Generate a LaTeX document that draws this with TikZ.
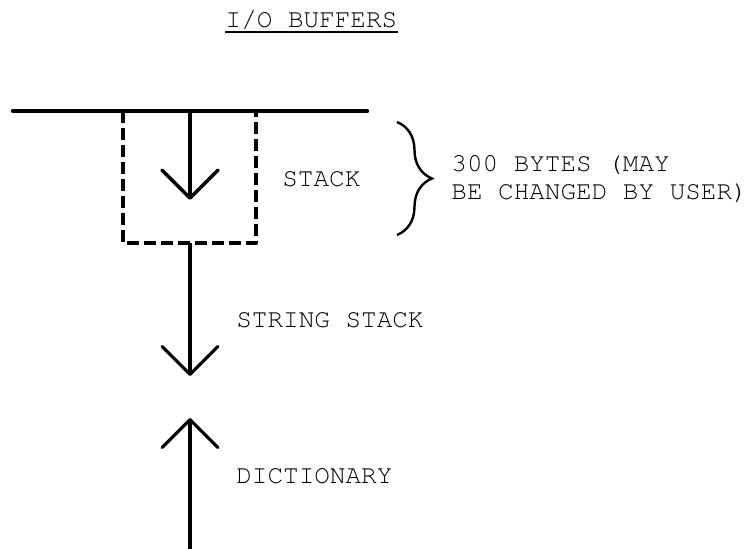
\documentclass[tikz,border=0pt]{standalone}
\usepackage[T1]{fontenc}
\usepackage{courier}
\usetikzlibrary{arrows.meta,decorations.pathreplacing}

\begin{document}
\begin{tikzpicture}[
  x=0.5pt, y=-0.5pt,
  memtext/.style={font=\ttfamily\fontsize{13}{14}\selectfont,inner sep=0pt},
  bar/.style={line width=2.2pt,line cap=round},
  wall/.style={line width=2.2pt,line join=round,dash pattern=on 6pt off 2.5pt},
  shaft/.style={line width=1.8pt,-{Straight Barb[length=14pt,width=28pt,round]}}
]
  \useasboundingbox (0,0) rectangle (752,549);

  % title
  \node[memtext,anchor=base] (title) at (311.5,28) {I/O BUFFERS};
  \draw[line width=0.9pt] ([yshift=-2pt]title.base west) -- ([yshift=-2pt]title.base east);

  % buffer boundary and stack area
  \coordinate (barL) at (13,111);
  \coordinate (barR) at (367,111);
  \draw[bar] (barL) -- (barR);

  \coordinate (boxNW) at (123,111);
  \coordinate (boxSW) at (123,243);
  \coordinate (boxSE) at (256,243);
  \coordinate (boxNE) at (256,111);
  \draw[wall] (boxNW) -- (boxSW) -- (boxSE) -- (boxNE);

  % growth arrows
  \coordinate (top)    at (190,111);
  \coordinate (tip1)   at (190,200);
  \coordinate (boxS)   at (190,243);
  \coordinate (tip2)   at (190,376);
  \coordinate (bottom) at (190,549);
  \coordinate (tip3)   at (190,418);
  \draw[shaft] (top) -- (tip1);
  \draw[shaft,line width=1.6pt] (boxS) -- (tip2);
  \draw[shaft,line width=1.6pt] (bottom) -- (tip3);

  \node[memtext,anchor=base west] (stack)    at (282,187) {STACK};
  \node[memtext,anchor=base west] (strstack) at (236,328) {STRING STACK};
  \node[memtext,anchor=base west] (dict)     at (236,484) {DICTIONARY};

  % size of the stack
  \coordinate (braceT) at (397,122);
  \coordinate (braceB) at (397,235);
  \draw[line width=1.2pt,decorate,decoration={brace,amplitude=17.5pt}] (braceT) -- (braceB);
  \node[memtext,anchor=west,align=left] (bytes) at (451,179) {300 BYTES (MAY\\BE CHANGED BY USER)};
\end{tikzpicture}
\end{document}
